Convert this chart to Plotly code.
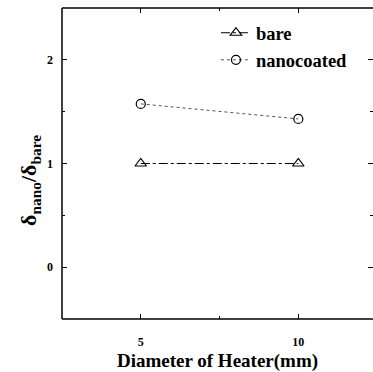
import plotly.graph_objects as go

diameter = [5, 10]
bare = [1.0, 1.0]
nanocoated = [1.575, 1.43]

SERIF = "Liberation Serif"

fig = go.Figure()
fig.add_trace(go.Scatter(
    x=diameter, y=bare, name="<b>bare</b>", mode="lines+markers",
    line=dict(color="black", width=1, dash="dashdot"),
    marker=dict(symbol="triangle-up-open", size=10, color="black", line=dict(width=1.2)),
))
fig.add_trace(go.Scatter(
    x=diameter, y=nanocoated, name="<b>nanocoated</b>", mode="lines+markers",
    line=dict(color="#555555", width=1, dash="dot"),
    marker=dict(symbol="circle-open", size=9, color="black", line=dict(width=1.2)),
))

axis_common = dict(
    showgrid=False, zeroline=False, showline=False, automargin=False,
    mirror="ticks", ticks="inside", ticklen=5, tickwidth=1, tickcolor="black",
    tickfont=dict(family=SERIF, size=12, color="black"),
)

for x0, y0, x1, y1 in [(0, 0, 0, 1), (0, 1, 1.05, 1), (0, 0, 1.05, 0)]:
    fig.add_shape(type="line", xref="paper", yref="paper", x0=x0, y0=y0, x1=x1, y1=y1,
                  line=dict(color="black", width=1.5))

fig.add_annotation(
    text="<b>δ<sub>nano</sub>/δ<sub>bare</sub></b>", textangle=-90,
    xref="paper", yref="paper", x=-0.103, y=0.447, showarrow=False,
    xanchor="center", yanchor="middle",
    font=dict(family=SERIF, size=22, color="black"),
)

fig.update_layout(
    width=373, height=372,
    margin=dict(l=62, r=0, t=8, b=53),
    paper_bgcolor="white", plot_bgcolor="white",
    font=dict(family=SERIF, color="black"),
    xaxis=dict(range=[2.5, 12.37], ticklabelstandoff=14,
               tickvals=[5, 10], ticktext=["<b>5</b>", "<b>10</b>"],
               minor=dict(ticks="inside", ticklen=3, tickvals=[7.5], tickcolor="black"),
               title=dict(text="<b>Diameter of Heater(mm)</b>", standoff=13,
                          font=dict(family=SERIF, size=19, color="black")),
               **axis_common),
    yaxis=dict(range=[-0.5, 2.5], ticklabelstandoff=8,
               tickvals=[0, 1, 2], ticktext=["<b>0</b>", "<b>1</b>", "<b>2</b>"],
               minor=dict(ticks="inside", ticklen=3, tickvals=[0.5, 1.5], tickcolor="black"),
               **axis_common),
    legend=dict(x=0.495, y=0.98, xanchor="left", yanchor="top",
                bgcolor="rgba(0,0,0,0)",
                font=dict(family=SERIF, size=18.5, color="black"),
                tracegroupgap=0),
    showlegend=True,
)

fig.write_html("out.html")
